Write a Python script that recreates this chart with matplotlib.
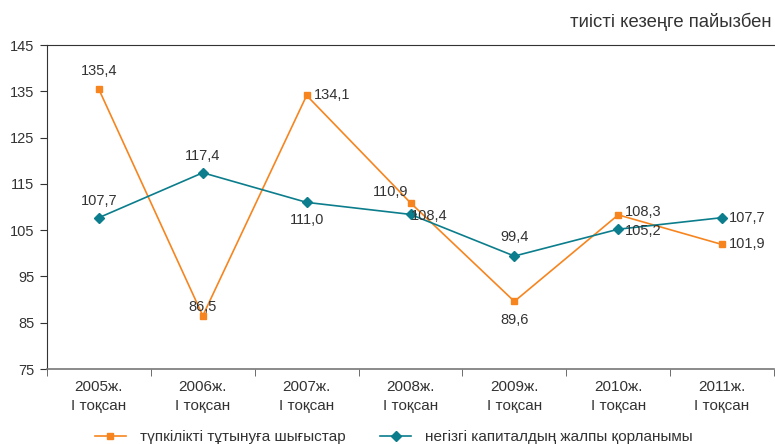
import matplotlib
matplotlib.use("Agg")
import matplotlib.pyplot as plt
import numpy as np

plt.rcParams['font.family'] = ['Liberation Sans', 'DejaVu Sans']

categories = ["2005ж.\nI тоқсан", "2006ж.\nI тоқсан", "2007ж.\nI тоқсан", "2008ж.\nI тоқсан",
              "2009ж.\nI тоқсан", "2010ж.\nI тоқсан", "2011ж.\nI тоқсан"]
consumption = [135.4, 86.5, 134.1, 110.9, 89.6, 108.3, 101.9]
capital = [107.7, 117.4, 111.0, 108.4, 99.4, 105.2, 107.7]
series_names = ["түпкілікті тұтынуға шығыстар", "негізгі капиталдың жалпы қорланымы"]
unit_label = "тиісті кезеңге пайызбен"
yticks = [75, 85, 95, 105, 115, 125, 135, 145]

orange = "#F7851F"
teal = "#0B7D8C"
txt = "#333333"

fig = plt.figure(figsize=(7.75, 4.44), dpi=100)
ax = fig.add_axes([47/775, 1-369/444, 727/775, 324/444])
x = np.arange(len(categories))

l1, = ax.plot(x, consumption, color=orange, lw=1.2, marker='s', ms=5, label=series_names[0])
l2, = ax.plot(x, capital, color=teal, lw=1.2, marker='D', ms=5, label=series_names[1])

ax.set_xlim(-0.5, len(categories) - 0.5)
ax.set_ylim(75, 145)
ax.set_yticks(yticks)
ax.set_yticklabels([str(v) for v in yticks], fontsize=10.5, color=txt)
ax.set_xticks(x)
ax.set_xticklabels(categories, fontsize=11, color=txt, linespacing=1.45)
ax.tick_params(axis='x', which='major', length=0, pad=8)
ax.set_xticks(np.arange(-0.5, len(categories)), minor=True)
ax.tick_params(axis='x', which='minor', length=5, color='#555555')
ax.tick_params(axis='y', length=5, color='#333333', pad=4)

ax.spines['right'].set_visible(False)
ax.spines['top'].set_color('#333333')
ax.spines['left'].set_color('#333333')
ax.spines['bottom'].set_color('#777777')
ax.spines['bottom'].set_linewidth(1.2)

def fmt(v):
    return f"{v:.1f}".replace('.', ',')

# label offsets (points) and alignment
c_pos = [((0, 8), 'center', 'bottom'), ((0, 1), 'center', 'bottom'), ((5, 0), 'left', 'center'),
         ((-14, 3), 'center', 'bottom'), ((0, -8), 'center', 'top'), ((5, 2), 'left', 'center'),
         ((5, 0), 'left', 'center')]
k_pos = [((0, 7), 'center', 'bottom'), ((0, 7), 'center', 'bottom'), ((0, -8), 'center', 'top'),
         ((0, -1), 'left', 'center'), ((0, 9), 'center', 'bottom'), ((5, -1), 'left', 'center'),
         ((5, 0), 'left', 'center')]

for i, v in enumerate(consumption):
    off, ha, va = c_pos[i]
    ax.annotate(fmt(v), (x[i], v), xytext=off, textcoords='offset points',
                ha=ha, va=va, fontsize=10.5, color=txt)
for i, v in enumerate(capital):
    off, ha, va = k_pos[i]
    ax.annotate(fmt(v), (x[i], v), xytext=off, textcoords='offset points',
                ha=ha, va=va, fontsize=10.5, color=txt)

fig.text(772/775, 1-22/444, unit_label, ha='right', va='center', fontsize=13.3, color=txt)

fig.legend(handles=[l1, l2], loc='center', bbox_to_anchor=(0.508, 1-437/444), ncol=2,
           frameon=False, fontsize=11, handlelength=2.0, columnspacing=2.3,
           handletextpad=0.9, labelcolor=txt)

fig.savefig("out.png", dpi=100)
